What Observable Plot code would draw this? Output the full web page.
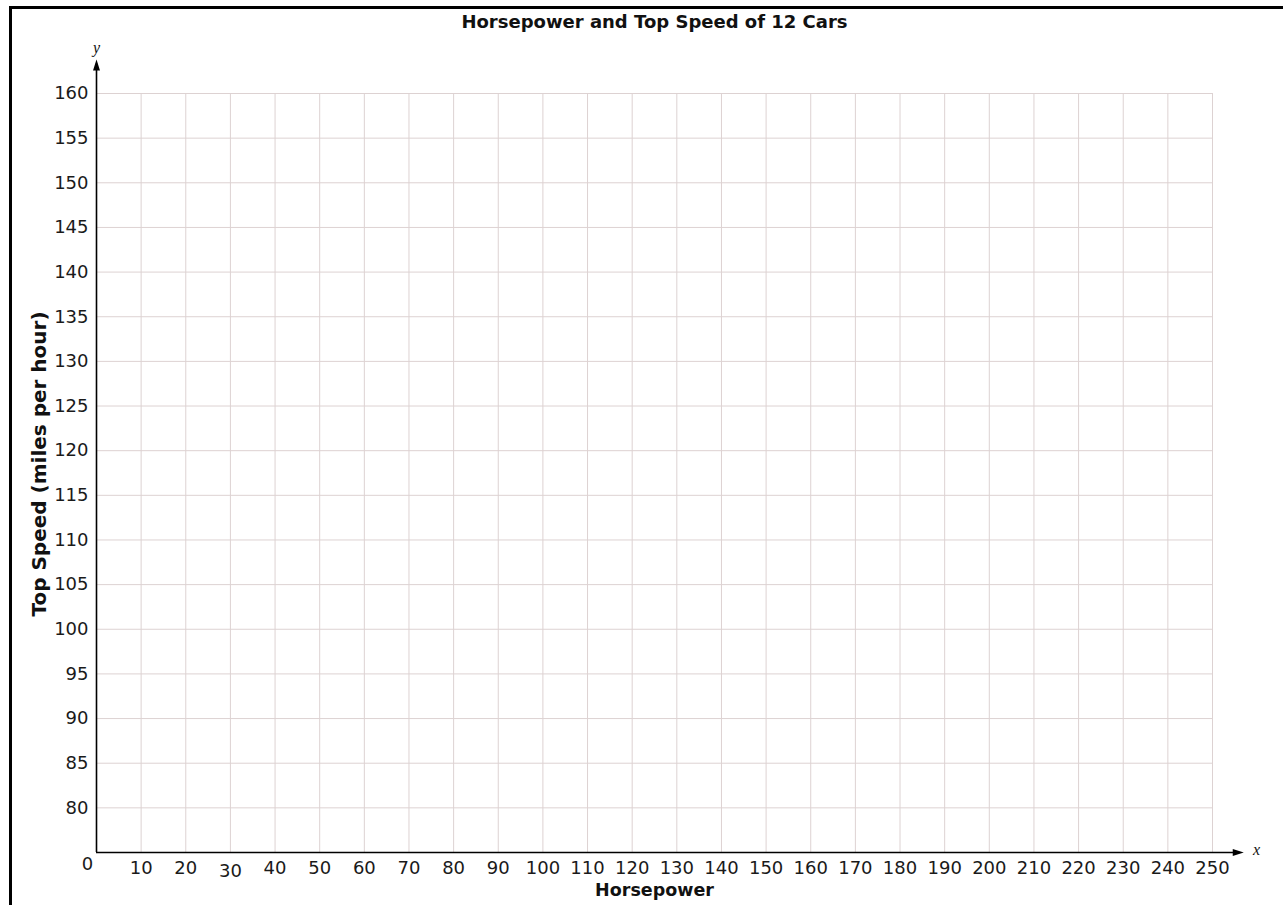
<!DOCTYPE html>
<html>
<head>
<meta charset="utf-8">
<script src="https://cdn.jsdelivr.net/npm/d3@7"></script>
<script src="https://cdn.jsdelivr.net/npm/@observablehq/plot@0.6"></script>
<style>
  html, body { margin: 0; padding: 0; background: #ffffff; }
  #wrap { position: relative; width: 1283px; height: 905px; overflow: hidden; }
  #frame { position: absolute; left: 9px; top: 6px; right: -10px; bottom: -10px;
           border-left: 3px solid #000; border-top: 3px solid #000; pointer-events: none; }
  #chart { position: absolute; left: 0; top: 0; }
</style>
</head>
<body>
<div id="wrap"><div id="chart"></div><div id="frame"></div></div>
<script>
const title = "Horsepower and Top Speed of 12 Cars";
const xLabel = "Horsepower";
const yLabel = "Top Speed (miles per hour)";
const xTicks = [10, 20, 30, 40, 50, 60, 70, 80, 90, 100, 110, 120, 130, 140, 150, 160, 170, 180, 190, 200, 210, 220, 230, 240, 250];
const yTicks = [80, 85, 90, 95, 100, 105, 110, 115, 120, 125, 130, 135, 140, 145, 150, 155, 160];
const originLabel = ["0"];
const xDomain = [0, 250];
const yDomain = [75, 160];
const yAxisTop = 163.8;
const xAxisEnd = 257;

const gridColor = "#ddd2d2";
const font = "DejaVu Sans, Verdana, sans-serif";

const arrowHead = {
  draw(context, l) {
    context.moveTo(0, -l);
    context.lineTo(-3.5, 0);
    context.lineTo(3.5, 0);
    context.closePath();
  }
};

const centered = {textAnchor: "middle", lineAnchor: "middle"};

const chart = Plot.plot({
  width: 1283,
  height: 905,
  marginLeft: 96,
  marginRight: 71,
  marginTop: 93,
  marginBottom: 53,
  x: {domain: xDomain, axis: null},
  y: {domain: yDomain, axis: null},
  style: {fontFamily: font, background: "transparent", color: "#1a1a1a"},
  marks: [
    Plot.ruleX(xTicks, {x: d => d, y1: yDomain[0], y2: yDomain[1], stroke: gridColor, strokeWidth: 1}),
    Plot.ruleY(yTicks, {y: d => d, x1: xDomain[0], x2: xDomain[1], stroke: gridColor, strokeWidth: 1}),
    Plot.ruleX([xDomain[0]], {y1: yDomain[0], y2: yAxisTop - 0.5, stroke: "#000", strokeWidth: 1.6}),
    Plot.ruleY([yDomain[0]], {x1: xDomain[0], x2: xAxisEnd - 1, stroke: "#000", strokeWidth: 1.6}),
    Plot.vector([{x: xDomain[0], y: yAxisTop}], {x: "x", y: "y", length: 11, rotate: 0, anchor: "end", shape: arrowHead, fill: "#000", stroke: "none"}),
    Plot.vector([{x: xAxisEnd, y: yDomain[0]}], {x: "x", y: "y", length: 11, rotate: 90, anchor: "end", shape: arrowHead, fill: "#000", stroke: "none"}),
    Plot.text(yTicks, {x: xDomain[0], y: d => d, text: d => String(d), dx: -8, textAnchor: "end", lineAnchor: "middle", fontSize: 18, fill: "#1a1a1a"}),
    Plot.text(xTicks.filter(d => d !== 30), {x: d => d, y: yDomain[0], text: d => String(d), dy: 16, ...centered, fontSize: 18, fill: "#1a1a1a"}),
    Plot.text(xTicks.filter(d => d === 30), {x: d => d, y: yDomain[0], text: d => String(d), dy: 19, ...centered, fontSize: 18, fill: "#1a1a1a"}),
    Plot.text(originLabel, {x: xDomain[0], y: yDomain[0], text: d => d, dx: -9, dy: 12, ...centered, fontSize: 18, fill: "#1a1a1a"}),
    Plot.text([title], {frameAnchor: "top", text: d => d, dy: -71, ...centered, fontSize: 18, fontWeight: "bold", fill: "#111"}),
    Plot.text([xLabel], {frameAnchor: "bottom", text: d => d, dy: 38, ...centered, fontSize: 17.5, fontWeight: "bold", fill: "#111"}),
    Plot.text([yLabel], {frameAnchor: "left", text: d => d, dx: -57, dy: -9, rotate: -90, ...centered, fontSize: 20, fontWeight: "bold", fill: "#111"}),
    Plot.text(["y"], {frameAnchor: "top-left", text: d => d, dy: -46, ...centered, fontSize: 16, fontStyle: "italic", fontFamily: "Liberation Serif, serif", fill: "#111"}),
    Plot.text(["x"], {frameAnchor: "bottom-right", text: d => d, dx: 44, dy: -3, ...centered, fontSize: 16, fontStyle: "italic", fontFamily: "Liberation Serif, serif", fill: "#111"})
  ]
});
document.getElementById("chart").appendChild(chart);
</script>
</body>
</html>
